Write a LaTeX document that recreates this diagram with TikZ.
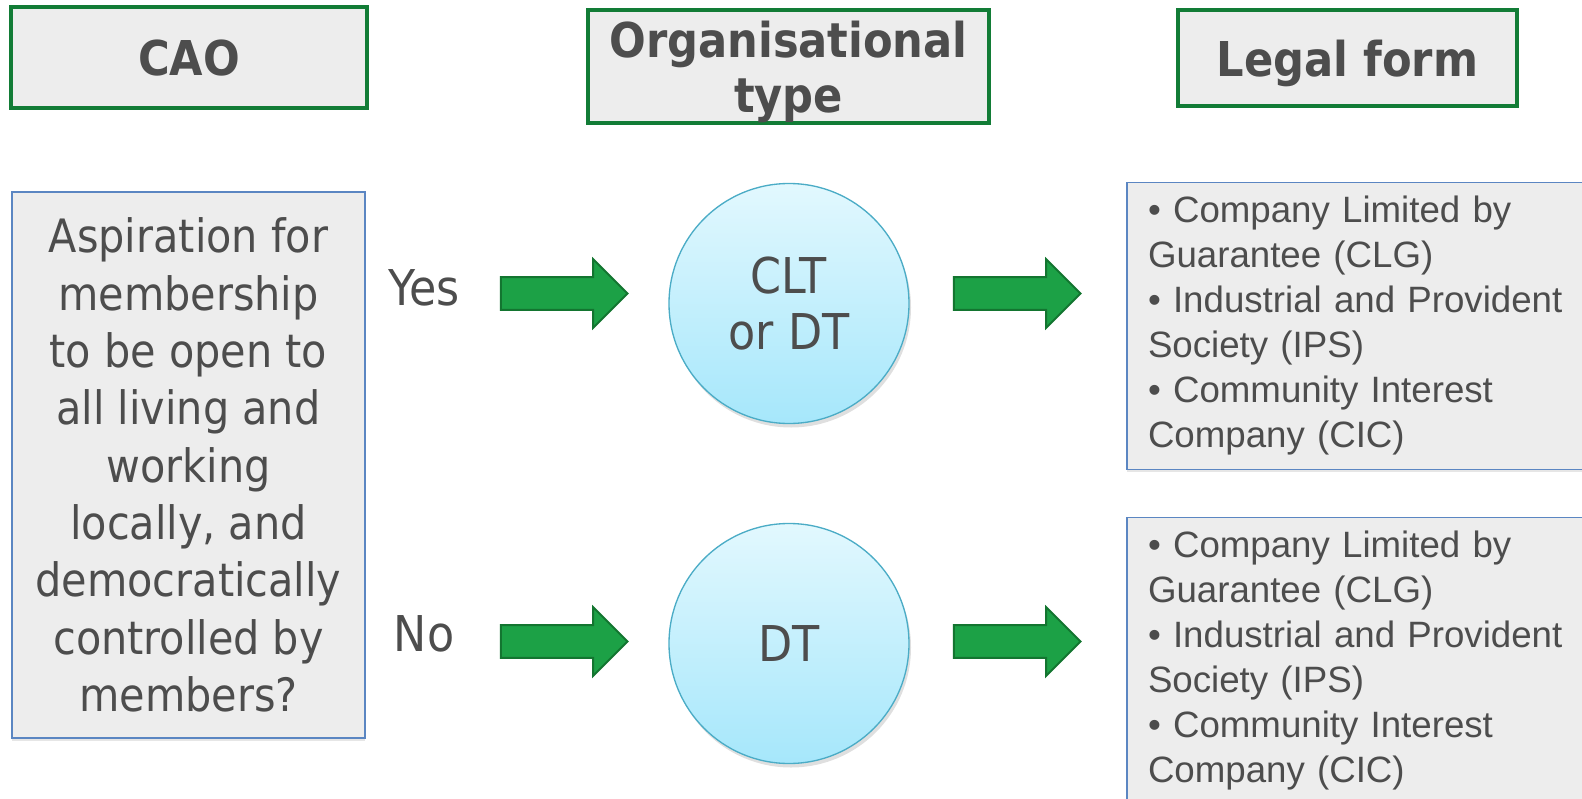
\documentclass[tikz,border=0pt]{standalone}
\usepackage{fontspec}
\setmainfont{DejaVu Sans Condensed}
\newfontfamily\arialfont{Liberation Sans}
\usetikzlibrary{shapes.geometric, shapes.arrows, shadows}

\definecolor{headgreen}{HTML}{127C36}
\definecolor{arrowgreen}{HTML}{1CA146}
\definecolor{arrowedge}{HTML}{137530}
\definecolor{boxfill}{HTML}{EDEDED}
\definecolor{boxblue}{HTML}{5B86C2}
\definecolor{ringblue}{HTML}{4BACC6}
\definecolor{circtop}{HTML}{E2F8FE}
\definecolor{circbottom}{HTML}{A6E7FB}
\definecolor{textgray}{HTML}{4D4D4D}

\tikzstyle{heading} = [rectangle, draw=headgreen, line width=2.4pt, fill=boxfill, text=textgray, align=center, text depth=0pt, font=\fontsize{36}{41}\selectfont\bfseries]
\tikzstyle{question} = [rectangle, draw=boxblue, line width=1pt, fill=boxfill, text=textgray, align=center, font=\fontsize{34.5}{43}\selectfont, drop shadow={shadow xshift=0pt, shadow yshift=-2pt, opacity=0.2}]
\tikzstyle{answer} = [text=textgray, font=\fontsize{37}{43}\selectfont]
\tikzstyle{orgcircle} = [circle, draw=ringblue, line width=1pt, top color=circtop, bottom color=circbottom, minimum size=180pt, text=textgray, align=center, font=\fontsize{37}{42}\selectfont, drop shadow={shadow xshift=1.5pt, shadow yshift=-3pt, opacity=0.25}]
\tikzstyle{legal} = [rectangle, draw=boxblue, line width=1pt, fill=boxfill, text=textgray, inner xsep=15.75pt, text width=338.25pt, minimum height=215.25pt, align=left, font=\arialfont\fontsize{27.5}{33.75}\selectfont, drop shadow={shadow xshift=0pt, shadow yshift=-2pt, opacity=0.2}]
\tikzstyle{blockarrow} = [single arrow, draw=arrowedge, fill=arrowgreen, line width=1.5pt, inner xsep=0pt, inner ysep=11.5pt, single arrow head extend=13.5pt, minimum height=95pt]

\begin{document}
\begin{tikzpicture}[x=0.75pt, y=-0.75pt]
    \useasboundingbox (0,0) rectangle (1582,799);
    \clip (0,0) rectangle (1582,799);

    % column headings
    \node (cao) [heading, minimum width=267pt, minimum height=75.75pt] at (189,57.5) {CAO};
    \node (orghead) [heading, minimum width=300.75pt, minimum height=84.75pt] at (788.5,66.5) {Organisational\\type};
    \node (legalhead) [heading, minimum width=254.25pt, minimum height=72pt] at (1347.5,58) {Legal form};

    % question
    \node (question) [question, minimum width=264.75pt, minimum height=409.5pt] at (188.5,465)
        {Aspiration for\\membership\\to be open to\\all living and\\working\\locally, and\\democratically\\controlled by\\members?};
    \node (yes) [answer] at (424,288) {Yes};
    \node (no) [answer] at (424,634) {No};

    % organisational types
    \node (clt) [orgcircle] at (789,303.5) {CLT\\or DT};
    \node (dt) [orgcircle, below of=clt, node distance=255pt] {DT};

    % legal forms
    \node (legalyes) [legal] at (1373.5,326)
        {\textbullet\ Company Limited by\\Guarantee (CLG)\\\textbullet\ Industrial and Provident\\Society (IPS)\\\textbullet\ Community Interest\\Company (CIC)};
    \node (legalno) [legal, below of=legalyes, node distance=251.25pt]
        {\textbullet\ Company Limited by\\Guarantee (CLG)\\\textbullet\ Industrial and Provident\\Society (IPS)\\\textbullet\ Community Interest\\Company (CIC)};

    % arrows
    \node (yesarrow) [blockarrow] at (556,293.5) {};
    \node (noarrow) [blockarrow] at (556,641.5) {};
    \node (cltarrow) [blockarrow] at (1009,293.5) {};
    \node (dtarrow) [blockarrow] at (1009,641.5) {};
\end{tikzpicture}
\end{document}
